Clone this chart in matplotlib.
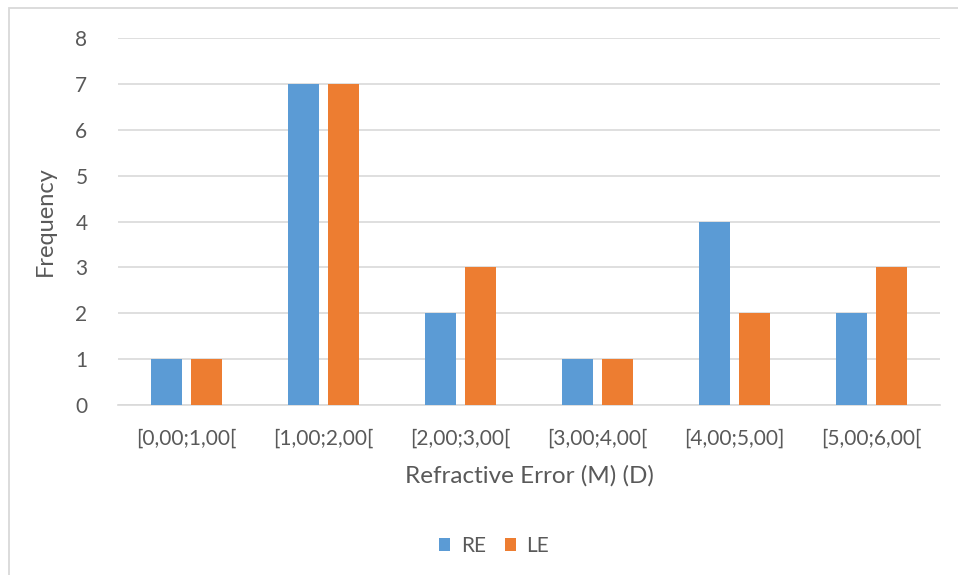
import matplotlib.pyplot as plt
import matplotlib.patches as mpatches
import numpy as np

# refractive error histogram, right vs left eye
bins = ['[0,00;1,00[', '[1,00;2,00[', '[2,00;3,00[', '[3,00;4,00[', '[4,00;5,00]', '[5,00;6,00[']
re_counts = [1, 7, 2, 1, 4, 2]
le_counts = [1, 7, 3, 1, 2, 3]

blue = '#5B9BD5'
orange = '#ED7D31'
txt = '#595959'
plt.rcParams['font.family'] = ['Lato', 'DejaVu Sans']

W, H = 958, 575
fig = plt.figure(figsize=(W / 100, H / 100), dpi=100)

# outer chart frame (runs off the right and bottom edges)
fig.patches.append(mpatches.Rectangle((9 / W, -0.01), 1.0, 1 - 8 / H + 0.01,
                                      transform=fig.transFigure, fill=False,
                                      edgecolor='#D9D9D9', linewidth=1.3))

ax = fig.add_axes([118 / W, 1 - 405 / H, (940 - 118) / W, (405 - 38) / H])

x = np.arange(len(bins))
bw = 0.226
gap = 0.06
ax.bar(x - (bw + gap) / 2, re_counts, bw, color=blue, label='RE', zorder=3)
ax.bar(x + (bw + gap) / 2, le_counts, bw, color=orange, label='LE', zorder=3)

ax.set_xlim(-0.5, len(bins) - 0.5)
ax.set_ylim(0, 8)
ax.set_yticks(range(0, 9))
ax.yaxis.grid(True, color='#D9D9D9', linewidth=1.2, zorder=0)
ax.set_xticks(x)
ax.set_xticklabels(bins)
ax.tick_params(axis='both', length=0, colors=txt, labelsize=15)
ax.tick_params(axis='x', pad=17)
ax.tick_params(axis='y', pad=22)
for s in ['top', 'right', 'left']:
    ax.spines[s].set_visible(False)
ax.spines['bottom'].set_color('#D9D9D9')
ax.spines['bottom'].set_linewidth(1.2)

ax.set_xlabel('Refractive Error (M) (D)', fontsize=17.5, color=txt, labelpad=12)
ax.set_ylabel('Frequency', fontsize=17, color=txt, labelpad=14)

leg = fig.legend(loc='center', bbox_to_anchor=(494 / W, 1 - 546 / H), ncol=2,
                 frameon=False, fontsize=15, handlelength=0.55, handleheight=0.55,
                 handletextpad=0.5, columnspacing=0.9)
for t in leg.get_texts():
    t.set_color(txt)

fig.savefig('out.png', dpi=100)
